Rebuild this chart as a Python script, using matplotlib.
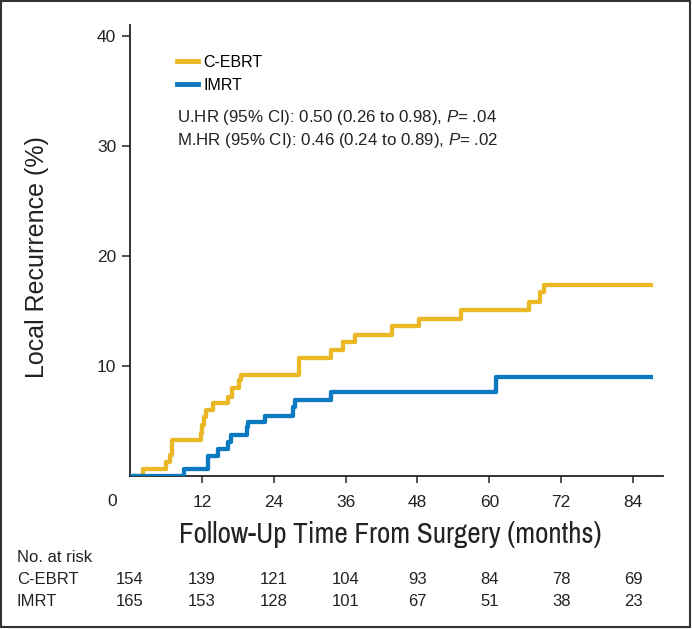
import matplotlib
matplotlib.use('Agg')
import matplotlib.pyplot as plt
import matplotlib.transforms as mtransforms
from matplotlib import font_manager
from matplotlib.lines import Line2D
from matplotlib.patches import Rectangle

# Kaplan-Meier style cumulative local recurrence (%)
cebrt_months = [0, 2.2, 6.0, 6.6, 7.0, 11.9, 12.1, 12.4, 12.7, 13.8, 16.4, 17.1, 18.2, 18.6,
                28.3, 33.5, 35.5, 37.6, 43.7, 48.3, 55.2, 66.7, 68.5, 69.1, 87.4]
cebrt_pct = [0, 0.6, 1.3, 1.9, 3.3, 3.9, 4.6, 5.4, 6.0, 6.6, 7.2, 8.0, 8.7, 9.2,
             10.7, 11.5, 12.2, 12.8, 13.6, 14.3, 15.1, 15.8, 16.7, 17.4, 17.4]

imrt_months = [0, 9.1, 13.0, 14.7, 16.4, 16.8, 19.5, 19.7, 22.5, 27.2, 27.5, 33.6, 61.1, 87.4]
imrt_pct = [0, 0.6, 1.8, 2.5, 3.1, 3.7, 4.5, 4.9, 5.5, 6.3, 6.9, 7.6, 9.0, 9.0]

risk_months = [0, 12, 24, 36, 48, 60, 72, 84]
cebrt_at_risk = [154, 139, 121, 104, 93, 84, 78, 69]
imrt_at_risk = [165, 153, 128, 101, 67, 51, 38, 23]

x_ticks = [12, 24, 36, 48, 60, 72, 84]
y_ticks = [10, 20, 30, 40]

GOLD = '#E9B824'
BLUE = '#0A79BF'
INK = '#222222'
W, H = 692, 629

plt.rcParams['font.family'] = ['Liberation Sans', 'DejaVu Sans']
plt.rcParams['mathtext.fontset'] = 'custom'
plt.rcParams['mathtext.rm'] = 'Liberation Sans'
plt.rcParams['mathtext.it'] = 'Liberation Sans:italic'


def condensed_font():
    """Pick a narrow sans face if one is installed (x label is set condensed)."""
    for f in font_manager.fontManager.ttflist:
        if 'Narrow' in f.name and f.style == 'normal' and f.weight in (400, 'normal', 'regular'):
            return font_manager.FontProperties(fname=f.fname)
    for f in font_manager.fontManager.ttflist:
        if f.stretch == 'condensed' and f.style == 'normal' and f.weight in (400, 'normal', 'regular', 'book'):
            return font_manager.FontProperties(fname=f.fname)
    return font_manager.FontProperties(family=['Liberation Sans', 'DejaVu Sans'])


def fy(py):
    return 1 - py / H


fig = plt.figure(figsize=(W / 100, H / 100), dpi=100)
ax = fig.add_axes([130 / W, 1 - 476 / H, (663 - 130) / W, (476 - 25) / H])

ax.step(cebrt_months, cebrt_pct, where='post', color=GOLD, lw=3.1, solid_capstyle='butt', zorder=3)
ax.step(imrt_months, imrt_pct, where='post', color=BLUE, lw=3.1, solid_capstyle='butt', zorder=4)

ax.set_xlim(0, 89)
ax.set_ylim(0, 41)
for s in ['top', 'right']:
    ax.spines[s].set_visible(False)
for s in ['left', 'bottom']:
    ax.spines[s].set_linewidth(1.3)
    ax.spines[s].set_color(INK)

ax.set_xticks(x_ticks)
ax.set_xticklabels([str(t) for t in x_ticks])
ax.set_yticks(y_ticks)
ax.set_yticklabels([str(t) for t in y_ticks])
ax.tick_params(axis='y', length=6, width=1.1, color=INK, labelsize=12.5, pad=4, labelcolor=INK)
ax.tick_params(axis='x', length=5, width=1.1, color=INK, labelsize=12.5, pad=9, labelcolor=INK)

# the "0" sits at the corner, offset left of the origin
blend = mtransforms.blended_transform_factory(ax.transData, fig.transFigure)
ax.text(-3, fy(501), '0', transform=blend, ha='center', va='center', fontsize=12.5, color=INK)

ax.set_ylabel('Local Recurrence (%)', fontsize=18, color=INK)
ax.yaxis.set_label_coords(49 / W, fy(257), transform=fig.transFigure)

xlab = fig.text(390 / W, fy(535), 'Follow-Up Time From Surgery (months)', ha='center', va='center',
                fontproperties=condensed_font(), color=INK)
xlab.set_fontsize(20)
# fit the label to the width it has in the original (about 430 px)
fig.canvas.draw()
wpx = xlab.get_window_extent().width
xlab.set_fontsize(min(21, 20 * 430 / wpx))

handles = [Line2D([], [], color=GOLD, lw=3.5), Line2D([], [], color=BLUE, lw=3.5)]
ax.legend(handles, ['C-EBRT', 'IMRT'], loc='upper left', bbox_to_anchor=(177 / W, fy(55)),
          bbox_transform=fig.transFigure, frameon=False, fontsize=11.5, handlelength=1.3,
          handletextpad=0.35, labelspacing=0.5, borderpad=0, borderaxespad=0)

fig.text(177 / W, fy(118), 'U.HR (95% CI): 0.50 (0.26 to 0.98), $P$= .04', ha='left', va='center',
         fontsize=12.2, color=INK)
fig.text(177 / W, fy(141), 'M.HR (95% CI): 0.46 (0.24 to 0.89), $P$= .02', ha='left', va='center',
         fontsize=12.2, color=INK)

# number at risk table
fig.text(17 / W, fy(558), 'No. at risk', ha='left', va='center', fontsize=12, color=INK)
fig.text(17 / W, fy(580), 'C-EBRT', ha='left', va='center', fontsize=12, color=INK)
fig.text(17 / W, fy(602), 'IMRT', ha='left', va='center', fontsize=12, color=INK)
for m, a, b in zip(risk_months, cebrt_at_risk, imrt_at_risk):
    ax.text(m, fy(580), str(a), transform=blend, ha='center', va='center', fontsize=12, color=INK)
    ax.text(m, fy(602), str(b), transform=blend, ha='center', va='center', fontsize=12, color=INK)

# outer frame around the whole panel
fig.patches.append(Rectangle((1.5 / W, 1 - 627 / H), 688 / W, 626 / H, transform=fig.transFigure,
                             fill=False, lw=1.5, edgecolor='#333333'))

fig.savefig('out.png', dpi=100)
